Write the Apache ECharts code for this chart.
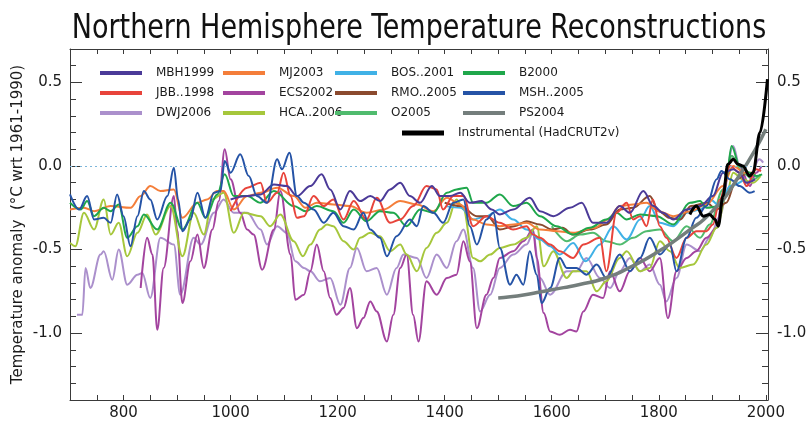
<!DOCTYPE html>
<html>
<head>
<meta charset="utf-8">
<script src="https://cdn.jsdelivr.net/npm/echarts@6/dist/echarts.min.js"></script>
<style>
  html, body { margin: 0; padding: 0; background: #ffffff; }
  #chart { width: 811px; height: 422px; }
</style>
</head>
<body>
<div id="chart"></div>
<script>
// Northern Hemisphere temperature reconstructions, anomalies (°C) relative to 1961-1990.
// Each series is a list of [year, anomaly] pairs.

const mbh1999 = [[1000,-0.2],[1031,-0.18],[1056,-0.17],[1081,-0.11],[1105,-0.12],[1124,-0.18],[1149,-0.12],[1170,-0.05],[1186,-0.14],[1205,-0.26],[1223,-0.15],[1242,-0.21],[1261,-0.18],[1279,-0.21],[1298,-0.14],[1317,-0.1],[1335,-0.18],[1354,-0.22],[1376,-0.12],[1391,-0.18],[1410,-0.18],[1429,-0.16],[1447,-0.22],[1469,-0.21],[1488,-0.26],[1503,-0.29],[1528,-0.26],[1559,-0.19],[1578,-0.27],[1603,-0.3],[1634,-0.25],[1656,-0.22],[1677,-0.34],[1702,-0.34],[1727,-0.24],[1746,-0.28],[1771,-0.15],[1790,-0.24],[1808,-0.28],[1827,-0.32],[1852,-0.26],[1877,-0.24],[1901,-0.18],[1920,-0.04],[1939,-0.02],[1951,-0.04],[1963,-0.1],[1980,-0.08]];

const mj2003 = [[700,-0.26],[726,-0.25],[745,-0.27],[776,-0.24],[813,-0.25],[832,-0.18],[850,-0.12],[869,-0.15],[894,-0.14],[910,-0.31],[938,-0.22],[956,-0.2],[975,-0.15],[987,-0.15],[1006,-0.26],[1031,-0.18],[1056,-0.16],[1087,-0.13],[1118,-0.18],[1140,-0.25],[1161,-0.22],[1192,-0.23],[1223,-0.24],[1254,-0.28],[1286,-0.26],[1317,-0.21],[1348,-0.23],[1379,-0.27],[1404,-0.19],[1429,-0.23],[1453,-0.32],[1478,-0.35],[1503,-0.36],[1528,-0.35],[1553,-0.34],[1578,-0.38],[1610,-0.39],[1640,-0.4],[1680,-0.37],[1705,-0.32],[1727,-0.24],[1752,-0.23],[1777,-0.22],[1800,-0.27],[1827,-0.3],[1860,-0.27],[1889,-0.23],[1920,-0.12],[1939,0.0],[1960,-0.04],[1980,-0.04]];

const bos2001 = [[1402,-0.24],[1430,-0.25],[1453,-0.32],[1478,-0.3],[1503,-0.26],[1528,-0.32],[1553,-0.38],[1578,-0.44],[1597,-0.48],[1615,-0.53],[1640,-0.46],[1663,-0.57],[1690,-0.47],[1715,-0.36],[1740,-0.44],[1765,-0.32],[1783,-0.24],[1802,-0.34],[1827,-0.36],[1852,-0.28],[1877,-0.26],[1896,-0.2],[1914,-0.24],[1933,-0.12],[1960,-0.08]];

const b2000 = [[700,-0.22],[720,-0.26],[732,-0.21],[745,-0.3],[763,-0.25],[776,-0.27],[791,-0.23],[807,-0.43],[826,-0.36],[838,-0.29],[863,-0.38],[888,-0.22],[910,-0.38],[938,-0.22],[953,-0.31],[975,-0.17],[989,-0.05],[1006,-0.18],[1031,-0.18],[1056,-0.22],[1081,-0.15],[1118,-0.24],[1140,-0.27],[1161,-0.24],[1192,-0.27],[1211,-0.34],[1230,-0.26],[1254,-0.33],[1279,-0.27],[1304,-0.28],[1329,-0.36],[1354,-0.26],[1379,-0.28],[1404,-0.16],[1422,-0.14],[1441,-0.13],[1453,-0.22],[1478,-0.22],[1503,-0.17],[1528,-0.24],[1553,-0.22],[1578,-0.3],[1609,-0.36],[1640,-0.41],[1671,-0.37],[1702,-0.32],[1721,-0.28],[1740,-0.32],[1765,-0.29],[1796,-0.3],[1827,-0.35],[1858,-0.22],[1877,-0.21],[1889,-0.25],[1914,-0.24],[1926,-0.08],[1936,0.12],[1951,0.0],[1970,-0.04],[1982,-0.06],[1993,-0.05]];

const jbb1998 = [[1000,-0.27],[1031,-0.13],[1056,-0.1],[1068,-0.22],[1087,-0.16],[1099,-0.04],[1112,-0.18],[1124,-0.31],[1137,-0.3],[1155,-0.18],[1174,-0.24],[1192,-0.2],[1211,-0.32],[1230,-0.21],[1254,-0.32],[1273,-0.19],[1298,-0.34],[1317,-0.32],[1341,-0.24],[1366,-0.12],[1385,-0.14],[1397,-0.26],[1416,-0.18],[1435,-0.18],[1453,-0.36],[1478,-0.3],[1503,-0.34],[1528,-0.38],[1553,-0.36],[1565,-0.41],[1578,-0.43],[1597,-0.47],[1615,-0.51],[1640,-0.55],[1659,-0.47],[1690,-0.43],[1702,-0.63],[1721,-0.28],[1740,-0.22],[1752,-0.32],[1765,-0.3],[1777,-0.36],[1789,-0.2],[1802,-0.36],[1814,-0.43],[1833,-0.55],[1852,-0.43],[1870,-0.39],[1889,-0.39],[1901,-0.35],[1914,-0.2],[1933,0.0],[1951,-0.04],[1964,-0.12],[1982,-0.02],[1991,-0.03]];

const ecs2002 = [[832,-0.73],[844,-0.43],[854,-0.53],[863,-0.98],[875,-0.61],[894,-0.18],[900,-0.38],[910,-0.82],[925,-0.57],[938,-0.41],[950,-0.61],[966,-0.38],[978,-0.21],[989,0.1],[1000,-0.08],[1018,-0.28],[1031,-0.38],[1043,-0.41],[1059,-0.62],[1081,-0.38],[1093,-0.15],[1112,-0.53],[1121,-0.8],[1137,-0.77],[1149,-0.63],[1161,-0.47],[1174,-0.63],[1186,-0.79],[1198,-0.89],[1211,-0.85],[1223,-0.73],[1236,-0.97],[1248,-0.91],[1261,-0.81],[1273,-0.87],[1292,-1.05],[1304,-0.89],[1317,-0.61],[1329,-0.53],[1341,-0.89],[1351,-1.05],[1366,-0.69],[1385,-0.77],[1404,-0.67],[1422,-0.65],[1435,-0.45],[1447,-0.57],[1460,-0.97],[1478,-0.77],[1491,-0.67],[1503,-0.55],[1528,-0.51],[1547,-0.45],[1565,-0.38],[1572,-0.55],[1585,-0.88],[1597,-0.99],[1615,-1.01],[1634,-0.98],[1646,-0.99],[1659,-0.87],[1677,-0.77],[1696,-0.79],[1709,-0.63],[1727,-0.75],[1746,-0.63],[1765,-0.55],[1783,-0.63],[1802,-0.55],[1817,-0.91],[1833,-0.63],[1852,-0.55],[1870,-0.51],[1889,-0.43],[1908,-0.37],[1920,-0.16],[1936,0.06],[1951,0.0],[1970,-0.12],[1982,-0.04],[1992,0.0]];

const rmo2005 = [[1400,-0.22],[1430,-0.24],[1460,-0.3],[1480,-0.3],[1503,-0.38],[1530,-0.36],[1553,-0.33],[1578,-0.35],[1600,-0.38],[1620,-0.37],[1640,-0.41],[1671,-0.38],[1702,-0.35],[1727,-0.26],[1752,-0.25],[1783,-0.18],[1800,-0.27],[1820,-0.31],[1840,-0.32],[1860,-0.24],[1889,-0.22],[1908,-0.26],[1926,-0.22],[1945,-0.08],[1960,-0.05]];

const msh2005 = [[700,-0.17],[717,-0.26],[732,-0.18],[745,-0.32],[763,-0.31],[776,-0.34],[788,-0.17],[800,-0.3],[813,-0.48],[826,-0.3],[838,-0.15],[850,-0.2],[863,-0.32],[882,-0.18],[894,-0.01],[902,-0.2],[910,-0.39],[925,-0.32],[938,-0.16],[953,-0.31],[969,-0.16],[981,-0.15],[989,0.03],[1000,-0.04],[1018,0.07],[1034,-0.06],[1049,-0.18],[1068,-0.22],[1087,0.04],[1096,-0.02],[1110,0.08],[1124,-0.18],[1137,-0.22],[1155,-0.26],[1174,-0.34],[1192,-0.28],[1211,-0.36],[1230,-0.38],[1248,-0.28],[1261,-0.38],[1279,-0.43],[1292,-0.54],[1310,-0.42],[1335,-0.32],[1348,-0.36],[1360,-0.24],[1379,-0.28],[1397,-0.34],[1416,-0.22],[1435,-0.2],[1447,-0.36],[1460,-0.47],[1478,-0.32],[1491,-0.28],[1503,-0.49],[1522,-0.71],[1534,-0.65],[1547,-0.71],[1559,-0.51],[1572,-0.65],[1581,-0.82],[1597,-0.73],[1615,-0.55],[1628,-0.61],[1646,-0.61],[1665,-0.65],[1684,-0.59],[1702,-0.67],[1727,-0.53],[1746,-0.63],[1765,-0.55],[1783,-0.43],[1802,-0.53],[1821,-0.47],[1833,-0.63],[1852,-0.43],[1870,-0.31],[1889,-0.24],[1908,-0.08],[1917,-0.03],[1933,-0.08],[1951,-0.12],[1970,-0.16],[1979,-0.15]];

const dwj2006 = [[713,-0.89],[723,-0.89],[729,-0.61],[738,-0.73],[757,-0.53],[763,-0.51],[779,-0.68],[791,-0.5],[807,-0.71],[826,-0.65],[835,-0.64],[850,-0.79],[869,-0.43],[894,-0.47],[906,-0.77],[931,-0.43],[944,-0.47],[969,-0.28],[987,-0.2],[1006,-0.28],[1031,-0.28],[1056,-0.38],[1068,-0.47],[1087,-0.36],[1105,-0.4],[1121,-0.57],[1137,-0.61],[1149,-0.63],[1167,-0.69],[1186,-0.67],[1205,-0.83],[1223,-0.61],[1236,-0.49],[1254,-0.63],[1273,-0.61],[1292,-0.77],[1310,-0.61],[1323,-0.53],[1348,-0.55],[1366,-0.67],[1385,-0.53],[1404,-0.61],[1422,-0.45],[1435,-0.38],[1453,-0.61],[1466,-0.87],[1485,-0.77],[1503,-0.61],[1528,-0.53],[1553,-0.47],[1565,-0.4],[1578,-0.67],[1597,-0.77],[1628,-0.63],[1646,-0.63],[1665,-0.55],[1690,-0.67],[1709,-0.73],[1727,-0.63],[1746,-0.55],[1765,-0.63],[1783,-0.59],[1802,-0.71],[1814,-0.81],[1833,-0.67],[1852,-0.47],[1877,-0.51],[1895,-0.43],[1914,-0.3],[1939,0.12],[1951,0.0],[1964,-0.12],[1988,0.04],[1995,0.02]];

const hca2006 = [[700,-0.46],[710,-0.48],[726,-0.28],[745,-0.38],[763,-0.2],[776,-0.41],[791,-0.34],[807,-0.54],[826,-0.4],[844,-0.29],[860,-0.41],[888,-0.24],[910,-0.54],[931,-0.28],[950,-0.41],[966,-0.2],[987,-0.16],[1006,-0.4],[1025,-0.28],[1056,-0.3],[1074,-0.36],[1093,-0.29],[1118,-0.45],[1135,-0.54],[1149,-0.47],[1167,-0.38],[1180,-0.35],[1192,-0.36],[1211,-0.45],[1230,-0.5],[1242,-0.43],[1261,-0.4],[1279,-0.42],[1298,-0.51],[1317,-0.47],[1329,-0.53],[1348,-0.63],[1366,-0.49],[1385,-0.4],[1404,-0.34],[1422,-0.2],[1435,-0.26],[1453,-0.55],[1466,-0.57],[1485,-0.53],[1503,-0.49],[1528,-0.47],[1553,-0.43],[1572,-0.36],[1585,-0.6],[1603,-0.51],[1628,-0.67],[1640,-0.63],[1665,-0.63],[1684,-0.75],[1702,-0.69],[1727,-0.55],[1740,-0.51],[1765,-0.63],[1783,-0.61],[1802,-0.45],[1821,-0.51],[1839,-0.61],[1864,-0.59],[1889,-0.47],[1908,-0.37],[1926,-0.18],[1939,-0.04],[1957,-0.08],[1976,-0.1],[1990,-0.06]];

const o2005 = [[1600,-0.36],[1628,-0.45],[1653,-0.41],[1677,-0.4],[1702,-0.45],[1727,-0.47],[1752,-0.43],[1777,-0.39],[1802,-0.38],[1827,-0.45],[1852,-0.36],[1877,-0.43],[1895,-0.35],[1920,-0.14],[1936,0.06],[1957,-0.04],[1976,-0.08],[1990,-0.05]];

const ps2004 = [[1500,-0.79],[1550,-0.77],[1600,-0.74],[1650,-0.71],[1700,-0.67],[1750,-0.6],[1800,-0.51],[1850,-0.4],[1900,-0.27],[1950,-0.06],[2000,0.22]];

const hadcrut2v = [[1858,-0.29],[1870,-0.24],[1883,-0.3],[1895,-0.29],[1905,-0.32],[1911,-0.36],[1920,-0.18],[1929,0.01],[1939,0.04],[1948,0.01],[1957,0.0],[1970,-0.06],[1976,-0.04],[1989,0.2],[2003,0.52]];

// Axis tick labels
const xTickLabels = [800, 1000, 1200, 1400, 1600, 1800, 2000];
const yTickLabels = [-1.0, -0.5, 0.0, 0.5];

// Series names and colours, in legend order
const names = {
  mbh: 'MBH1999', mj: 'MJ2003', bos: 'BOS..2001', b: 'B2000',
  jbb: 'JBB..1998', ecs: 'ECS2002', rmo: 'RMO..2005', msh: 'MSH..2005',
  dwj: 'DWJ2006', hca: 'HCA..2006', o: 'O2005', ps: 'PS2004',
  inst: 'Instrumental (HadCRUT2v)'
};
const colors = {
  mbh: '#4b3a98', mj: '#f47e3a', bos: '#40b1e6', b: '#1fa74b',
  jbb: '#e8443b', ecs: '#a3449f', rmo: '#8b4a2e', msh: '#2553a6',
  dwj: '#ab90cc', hca: '#a6c73c', o: '#50bb6e', ps: '#747e7c',
  inst: '#000000'
};
const dataByKey = {
  mbh: mbh1999, mj: mj2003, bos: bos2001, b: b2000, jbb: jbb1998, ecs: ecs2002,
  rmo: rmo2005, msh: msh2005, dwj: dwj2006, hca: hca2006, o: o2005, ps: ps2004,
  inst: hadcrut2v
};
// drawing order, back to front
const drawOrder = ['dwj', 'ecs', 'hca', 'o', 'bos', 'rmo', 'mj', 'b', 'jbb', 'mbh', 'msh', 'ps', 'inst'];

const font = 'DejaVu Sans, Verdana, sans-serif';
const axisColor = '#3a3a3a';
const textColor = '#1c1c1c';

function isLabelled(list, v) {
  return list.some(t => Math.abs(t - v) < 1e-6);
}

const series = drawOrder.map(key => {
  const s = {
    name: names[key],
    type: 'line',
    data: dataByKey[key],
    showSymbol: false,
    symbol: 'none',
    smooth: key === 'ps' ? 0.6 : 0.35,
    lineStyle: {
      color: colors[key],
      width: key === 'ps' ? 3.5 : (key === 'inst' ? 3 : 2),
      join: 'round'
    },
    itemStyle: { color: colors[key] },
    emphasis: { disabled: true },
    z: key === 'inst' ? 5 : (key === 'ps' ? 4 : 3)
  };
  if (key !== 'ps') s.smoothMonotone = 'x';
  if (key === 'dwj') {
    // dotted zero reference line
    s.markLine = {
      silent: true,
      symbol: 'none',
      label: { show: false },
      lineStyle: { color: '#7db6da', type: [2, 3], width: 1 },
      data: [{ yAxis: 0 }]
    };
  }
  return s;
});

function legendColumn(keys, left, top, itemHeight) {
  return {
    orient: 'vertical',
    left: left,
    top: top,
    padding: 0,
    itemGap: 8,
    itemWidth: 42,
    itemHeight: itemHeight,
    icon: 'rect',
    selectedMode: false,
    data: keys.map(k => names[k]),
    textStyle: { fontFamily: font, fontSize: 12, color: textColor, padding: [0, 0, 0, 9] }
  };
}

const yBase = {
  type: 'value', min: -1.4, max: 0.7, interval: 0.1,
  splitLine: { show: false },
  axisLine: { show: true, lineStyle: { color: axisColor, width: 1 } }
};

const option = {
  animation: false,
  backgroundColor: '#ffffff',
  graphic: [{
    type: 'text',
    x: 419,
    y: 29.5,
    originX: 0,
    originY: 0,
    scaleY: 1.14,
    silent: true,
    style: {
      text: 'Northern Hemisphere Temperature Reconstructions',
      x: 0,
      y: 0,
      align: 'center',
      verticalAlign: 'middle',
      font: 'normal 30px "DejaVu Sans Condensed", "Liberation Sans Narrow", sans-serif',
      fill: '#111111'
    }
  }],
  legend: [
    legendColumn(['mbh', 'jbb', 'dwj'], 100, 67, 4),
    legendColumn(['mj', 'ecs', 'hca'], 223, 67, 4),
    legendColumn(['bos', 'rmo', 'o'], 335, 67, 4),
    legendColumn(['b', 'msh', 'ps'], 463, 67, 4),
    legendColumn(['inst'], 402, 127, 5)
  ],
  grid: { left: 70, right: 43, top: 49, bottom: 22, containLabel: false },
  xAxis: [
    {
      type: 'value', min: 700, max: 2004, interval: 50,
      axisLine: { show: true, onZero: false, lineStyle: { color: axisColor, width: 1 } },
      axisTick: { show: true, inside: true, length: 5, lineStyle: { color: axisColor } },
      axisLabel: {
        formatter: v => isLabelled(xTickLabels, v) ? String(v) : '',
        fontFamily: font, fontSize: 15, color: textColor, margin: 6
      },
      splitLine: { show: false }
    },
    {
      type: 'value', position: 'top', min: 700, max: 2004, interval: 50,
      axisLine: { show: true, onZero: false, lineStyle: { color: axisColor, width: 1 } },
      axisTick: { show: true, inside: true, length: 5, lineStyle: { color: axisColor } },
      axisLabel: { show: false },
      splitLine: { show: false }
    }
  ],
  yAxis: [
    Object.assign({}, yBase, {
      position: 'left',
      axisTick: { show: true, inside: true, length: 6, lineStyle: { color: axisColor } },
      axisLabel: {
        formatter: v => isLabelled(yTickLabels, v) ? v.toFixed(1) : '',
        fontFamily: font, fontSize: 15, color: textColor, margin: 8
      },
      name: 'Temperature anomaly  (\u00B0C wrt 1961-1990)',
      nameLocation: 'middle',
      nameGap: 44,
      nameMoveOverlap: false,
      nameTextStyle: { fontFamily: font, fontSize: 15, color: textColor }
    }),
    Object.assign({}, yBase, {
      position: 'left',
      axisLine: { show: false },
      axisTick: { show: true, inside: true, length: 12, customValues: yTickLabels, lineStyle: { color: axisColor } },
      axisLabel: { show: false }
    }),
    Object.assign({}, yBase, {
      position: 'right',
      axisTick: { show: true, inside: true, length: 6, lineStyle: { color: axisColor } },
      axisLabel: {
        formatter: v => isLabelled(yTickLabels, v) ? v.toFixed(1) : '',
        fontFamily: font, fontSize: 15, color: textColor, margin: 9
      }
    }),
    Object.assign({}, yBase, {
      position: 'right',
      axisLine: { show: false },
      axisTick: { show: true, inside: true, length: 12, customValues: yTickLabels, lineStyle: { color: axisColor } },
      axisLabel: { show: false }
    })
  ],
  series: series
};

const chart = echarts.init(document.getElementById('chart'), null, { renderer: 'canvas' });
chart.setOption(option);
</script>
</body>
</html>
